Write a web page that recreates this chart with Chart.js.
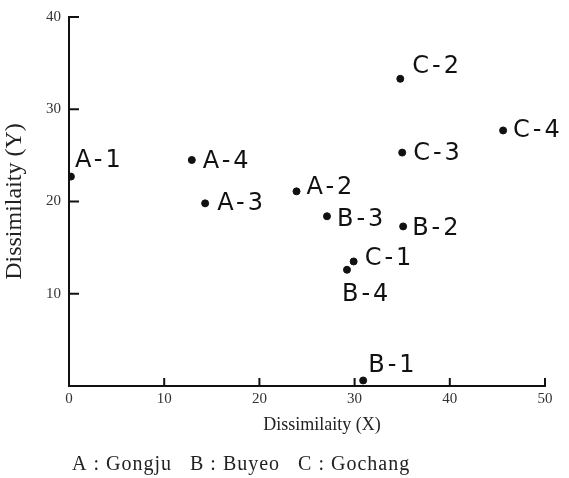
<!DOCTYPE html>
<html>
<head>
<meta charset="utf-8">
<script src="https://cdn.jsdelivr.net/npm/chart.js@4.4.1/dist/chart.umd.min.js"></script>
<style>
  html, body { margin: 0; padding: 0; background: #fff; }
  #wrap { width: 569px; height: 478px; }
</style>
</head>
<body>
<div id="wrap"><canvas id="chart" width="569" height="478"></canvas></div>
<script>
// sample labels and their dissimilarity coordinates
const labels = ["A-1", "A-2", "A-3", "A-4", "B-1", "B-2", "B-3", "B-4", "C-1", "C-2", "C-3", "C-4"];
const xValues = [0.2, 23.9, 14.3, 12.9, 30.9, 35.1, 27.1, 29.2, 29.9, 34.8, 35.0, 45.6];
const yValues = [22.7, 21.1, 19.8, 24.5, 0.6, 17.3, 18.4, 12.6, 13.5, 33.3, 25.3, 27.7];
const xTicks = [0, 10, 20, 30, 40, 50];
const yTicks = [10, 20, 30, 40];
const caption = "A : Gongju   B : Buyeo   C : Gochang";

// where each label sits relative to its dot
const labelOffsets = {
    "A-1": [4, -16], "A-2": [10, -4], "A-3": [12, 0], "A-4": [11, 2],
    "B-1": [5, -15], "B-2": [9, 2], "B-3": [10, 4], "B-4": [-5, 25],
    "C-1": [11, -3], "C-2": [12, -12], "C-3": [11, 1], "C-4": [10, 0]
};

const serif = "'Liberation Serif', 'DejaVu Serif', serif";

const points = xValues.map((x, i) => ({ x: x, y: yValues[i], label: labels[i] }));

const extras = {
    id: 'extras',
    afterDraw(chart) {
        const c = chart.ctx;
        const xs = chart.scales.x, ys = chart.scales.y;
        const area = chart.chartArea;
        c.save();
        // inward tick marks
        c.strokeStyle = '#111';
        c.lineWidth = 2;
        xTicks.slice(1).forEach(v => {
            const px = xs.getPixelForValue(v);
            c.beginPath(); c.moveTo(px, area.bottom); c.lineTo(px, area.bottom - 8); c.stroke();
        });
        yTicks.forEach(v => {
            const py = ys.getPixelForValue(v);
            c.beginPath(); c.moveTo(area.left, py); c.lineTo(area.left + 10, py); c.stroke();
        });
        // point labels
        c.fillStyle = '#111';
        c.font = "24px 'DejaVu Sans', sans-serif";
        c.letterSpacing = '3px';
        c.textBaseline = 'middle';
        c.textAlign = 'left';
        const meta = chart.getDatasetMeta(0);
        meta.data.forEach((el, i) => {
            const lab = points[i].label;
            const off = labelOffsets[lab];
            c.fillText(lab, el.x + off[0], el.y + off[1]);
        });
        c.letterSpacing = '0px';
        // x axis title
        c.font = "18px " + serif;
        c.textAlign = 'center';
        c.fillStyle = '#222';
        c.fillText("Dissimilaity (X)", 322, 425);
        // caption
        c.font = "20px " + serif;
        c.letterSpacing = '1px';
        c.textAlign = 'left';
        c.textBaseline = 'alphabetic';
        c.fillText(caption, 72, 470);
        c.restore();
    }
};

new Chart(document.getElementById('chart').getContext('2d'), {
    type: 'scatter',
    data: {
        datasets: [{
            data: points,
            backgroundColor: '#111',
            borderColor: '#111',
            pointRadius: 3.5,
            pointHoverRadius: 3.5
        }]
    },
    options: {
        responsive: false,
        devicePixelRatio: 1,
        animation: false,
        layout: { padding: { left: 0, right: 24, top: 10, bottom: 0 } },
        plugins: { legend: { display: false }, tooltip: { enabled: false } },
        scales: {
            x: {
                type: 'linear',
                min: 0, max: 50,
                afterFit: s => { s.height = 92; },
                afterBuildTicks: s => { s.ticks = xTicks.map(v => ({ value: v })); },
                grid: { display: false, drawTicks: false },
                border: { display: true, color: '#111', width: 2 },
                ticks: { padding: 4, color: '#333', font: { family: serif, size: 15 } }
            },
            y: {
                type: 'linear',
                min: 0, max: 40,
                afterFit: s => { s.width = 69; },
                afterBuildTicks: s => { s.ticks = yTicks.map(v => ({ value: v })); },
                grid: { display: false, drawTicks: false },
                border: { display: true, color: '#111', width: 2 },
                ticks: { padding: 8, color: '#333', font: { family: serif, size: 15 } },
                title: {
                    display: true,
                    text: 'Dissimilaity (Y)',
                    color: '#222',
                    font: { family: serif, size: 24 },
                    padding: { top: 0, bottom: 0 }
                }
            }
        }
    },
    plugins: [extras]
});
</script>
</body>
</html>
